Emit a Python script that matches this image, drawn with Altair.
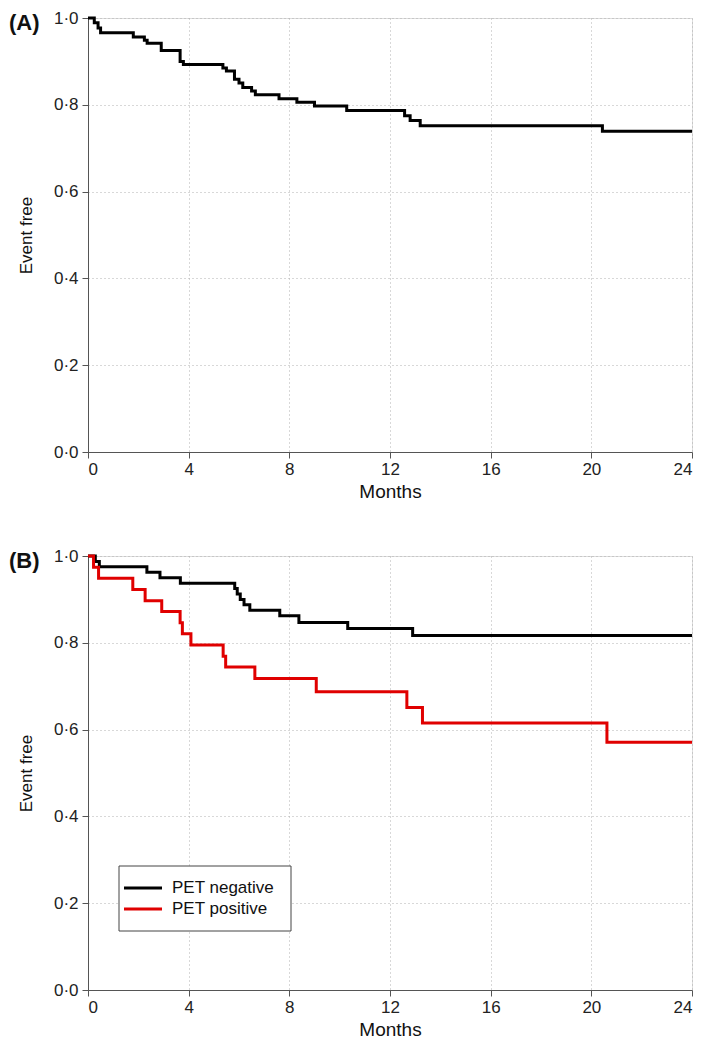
import altair as alt
import pandas as pd

FONT = "Liberation Sans"

# Panel A: all patients
t_all = [0, 0.25, 0.4, 0.5, 1.8, 2.24, 2.35, 2.91, 3.66, 3.79, 5.36, 5.5, 5.82, 6.0,
         6.15, 6.5, 6.65, 7.59, 8.3, 9.0, 10.28, 12.58, 12.8, 13.2, 20.44, 24]
s_all = [1.0, 0.989, 0.977, 0.966, 0.956, 0.949, 0.942, 0.925, 0.900, 0.893, 0.885,
         0.878, 0.859, 0.850, 0.840, 0.832, 0.823, 0.814, 0.806, 0.797, 0.787, 0.775,
         0.764, 0.752, 0.739, 0.739]

# Panel B: PET negative / PET positive
t_neg = [0, 0.29, 0.45, 2.34, 2.86, 3.67, 5.83, 5.93, 6.05, 6.2, 6.43, 7.62, 8.38,
         10.32, 12.9, 24]
s_neg = [1.0, 0.9875, 0.975, 0.9625, 0.95, 0.9375, 0.925, 0.9125, 0.9, 0.8875, 0.875,
         0.8625, 0.847, 0.833, 0.817, 0.817]
t_pos = [0, 0.22, 0.42, 1.78, 2.27, 2.93, 3.66, 3.75, 4.09, 5.37, 5.47, 6.63, 9.07,
         12.67, 13.29, 20.62, 24]
s_pos = [1.0, 0.974, 0.949, 0.923, 0.897, 0.872, 0.846, 0.821, 0.795, 0.769, 0.744,
         0.718, 0.687, 0.651, 0.615, 0.571, 0.571]

groups = ["PET negative", "PET positive"]
group_colors = ["#000000", "#e00000"]
x_ticks = [0, 4, 8, 12, 16, 20, 24]
y_ticks = [0.0, 0.2, 0.4, 0.6, 0.8, 1.0]
panel_labels = ["(A)", "(B)"]

df_a = pd.DataFrame({"t": t_all, "s": s_all})
df_b = pd.concat([
    pd.DataFrame({"t": t_neg, "s": s_neg, "group": groups[0]}),
    pd.DataFrame({"t": t_pos, "s": s_pos, "group": groups[1]}),
])

W, H = 604, 434

x_axis = alt.Axis(values=x_ticks, title="Months", grid=True, gridDash=[1, 3],
                  gridColor="#b0b0b0", labelFontSize=17, titleFontSize=19,
                  titleFontWeight="normal", tickSize=6, labelPadding=3,
                  titlePadding=5, domainColor="#555", tickColor="#555",
                  labelColor="#222", titleColor="#111", labelFont=FONT, titleFont=FONT)
y_axis = alt.Axis(values=y_ticks, title="Event free", grid=True, gridDash=[1, 3],
                  gridColor="#b0b0b0", labelFontSize=17, titleFontSize=17,
                  titleFontWeight="normal", tickSize=6, labelPadding=4,
                  titlePadding=18, domainColor="#555", tickColor="#555",
                  labelColor="#222", titleColor="#111", labelFont=FONT, titleFont=FONT,
                  labelExpr="replace(format(datum.value, '.1f'), '.', '·')")

xs = alt.Scale(domain=[0, 24], nice=False, zero=False)
ys = alt.Scale(domain=[0, 1], nice=False)


def panel_label(txt):
    return alt.Chart(pd.DataFrame({"label": [txt]})).mark_text(
        align="left", baseline="middle", fontSize=22, fontWeight="bold", font=FONT,
        color="#111"
    ).encode(x=alt.value(-79), y=alt.value(5), text="label:N")


line_a = alt.Chart(df_a).mark_line(interpolate="step-after", strokeWidth=3,
                                   color="#000000").encode(
    x=alt.X("t:Q", scale=xs, axis=x_axis),
    y=alt.Y("s:Q", scale=ys, axis=y_axis),
)
chart_a = alt.layer(line_a, panel_label(panel_labels[0])).properties(width=W, height=H)

line_b = alt.Chart(df_b).mark_line(interpolate="step-after", strokeWidth=3).encode(
    x=alt.X("t:Q", scale=xs, axis=x_axis),
    y=alt.Y("s:Q", scale=ys, axis=y_axis),
    color=alt.Color("group:N", scale=alt.Scale(domain=groups, range=group_colors),
                    legend=None),
    order=alt.Order("t:Q"),
)

# manual legend box
legend_box = alt.Chart(pd.DataFrame({"k": [0]})).mark_rect(
    fill="white", stroke="#444", strokeWidth=1
).encode(x=alt.value(31), x2=alt.value(203), y=alt.value(310), y2=alt.value(375))

legend_layers = [legend_box]
for i, g in enumerate(groups):
    row_y = 332 + 21 * i
    legend_layers.append(
        alt.Chart(pd.DataFrame({"group": [g]})).mark_rule(strokeWidth=3).encode(
            x=alt.value(36), x2=alt.value(74), y=alt.value(row_y),
            color=alt.value(group_colors[i]))
    )
    legend_layers.append(
        alt.Chart(pd.DataFrame({"group": [g]})).mark_text(
            align="left", baseline="middle", fontSize=17, font=FONT, color="#111"
        ).encode(x=alt.value(84), y=alt.value(row_y), text="group:N")
    )

chart_b = alt.layer(line_b, *legend_layers, panel_label(panel_labels[1])).properties(
    width=W, height=H)

chart = alt.vconcat(chart_a, chart_b, spacing=44).properties(padding=0).configure_view(
    stroke="#555", strokeWidth=1
).configure(background="white")

chart.save("out.html", embed_options={"renderer": "svg", "actions": False})
